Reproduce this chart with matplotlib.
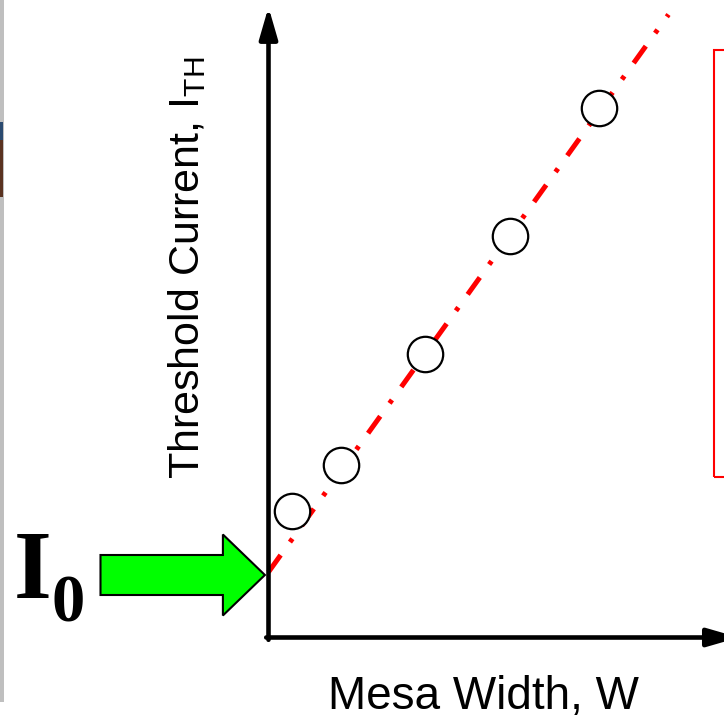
import matplotlib
matplotlib.use("Agg")
import matplotlib.pyplot as plt
import matplotlib.patches as mpatches
import numpy as np

# ---- data (arbitrary units) ----
mesa_width = [0.58, 1.81, 3.91, 6.04, 8.27]
threshold_current = [2.53, 3.45, 5.68, 8.04, 10.60]
fit_x = [0.0, 10.0]
fit_I0 = 1.31
fit_slope = 1.115
x_label = "Mesa Width, W"
y_label = r"Threshold Current, I$_{\mathrm{TH}}$"
i0_main = "I"
i0_sub = "0"

plt.rcParams['mathtext.fontset'] = 'custom'
plt.rcParams['mathtext.rm'] = 'Liberation Sans'
plt.rcParams['mathtext.it'] = 'Liberation Sans'
plt.rcParams['lines.scale_dashes'] = False

W, H = 724, 718
fig = plt.figure(figsize=(W / 100, H / 100), dpi=100)
fig.patch.set_facecolor('white')

def fx(px):
    return px / W

def fy(py):
    return 1 - py / H

ox, oy = 268.5, 637.5
ax = fig.add_axes([fx(ox), fy(oy), (W - ox) / W, oy / H])
ax.set_xlim(0, (W - ox) / 40)
ax.set_ylim(0, oy / 50)
ax.axis('off')

# fit line
fx_arr = np.array(fit_x)
fit_y = fit_I0 + fit_slope * fx_arr
ax.plot(fx_arr, fit_y, color='#ff0000', lw=3.6,
        linestyle=(0, (15, 11.5, 3, 11.5)), solid_capstyle='butt',
        dash_capstyle='butt', clip_on=False, zorder=2)

# data points
ax.plot(mesa_width, threshold_current, 'o', ms=25.5, mfc='white', mec='black',
        mew=1.6, clip_on=False, zorder=3)

# axes with arrows
ax.annotate('', xy=(0, 12.61), xytext=(0, -0.046),
            arrowprops=dict(arrowstyle='-|>,head_length=19,head_width=5.5',
                            mutation_scale=1, lw=3.3, color='black',
                            shrinkA=0, shrinkB=0),
            annotation_clip=False, zorder=4)
ax.annotate('', xy=(11.76, 0), xytext=(-0.057, 0),
            arrowprops=dict(arrowstyle='-|>,head_length=19,head_width=5.5',
                            mutation_scale=1, lw=3.3, color='black',
                            shrinkA=0, shrinkB=0),
            annotation_clip=False, zorder=4)

# green arrow pointing to I0
arrow = mpatches.FancyArrow(-4.2, 1.25, 4.11, 0, width=0.8, head_width=1.62,
                            head_length=1.05, length_includes_head=True,
                            fc='#00ff00', ec='black', lw=1.5, clip_on=False,
                            zorder=3)
ax.add_patch(arrow)

# labels
fig.text(fx(187), fy(268), y_label, rotation=90, ha='center', va='center',
         fontsize=31, family='Liberation Sans', color='black')
fig.text(fx(483), fy(709), x_label, ha='center', va='baseline',
         fontsize=33, family='Liberation Sans', color='black')

fig.text(fx(14), fy(598), i0_main, ha='left', va='baseline', fontsize=70,
         family='Liberation Serif', weight='bold', color='black')
fig.text(fx(51), fy(622), i0_sub, ha='left', va='baseline', fontsize=48,
         family='Liberation Serif', weight='bold', color='black')

# decorations: gray bar on left, red box at right
fig.add_artist(mpatches.Rectangle((fx(0), fy(702)), fx(4), 702 / H,
                                  transform=fig.transFigure, color='#bfbfbf', lw=0))
fig.add_artist(mpatches.Rectangle((fx(0), fy(197)), fx(3), 75 / H,
                                  transform=fig.transFigure, color='#5a3220', lw=0))
fig.add_artist(mpatches.Rectangle((fx(0), fy(140)), fx(3), 18 / H,
                                  transform=fig.transFigure, color='#2a4a70', lw=0))
fig.add_artist(mpatches.Rectangle((fx(714), fy(477)), fx(30), 427 / H,
                                  transform=fig.transFigure, fill=False,
                                  ec='#ff0000', lw=1.5))

fig.savefig('out.png', dpi=100, facecolor='white')
